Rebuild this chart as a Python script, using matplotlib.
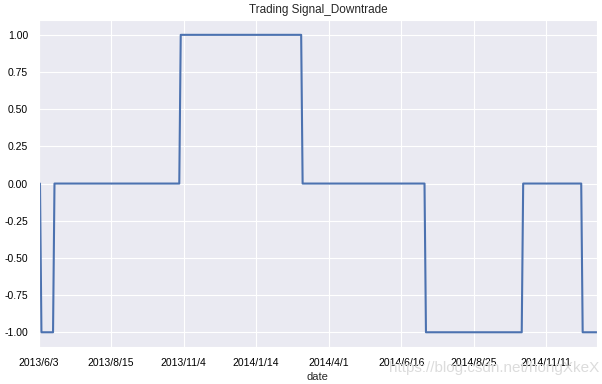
import numpy as np
import pandas as pd
import matplotlib
matplotlib.use('Agg')
import matplotlib.pyplot as plt
import seaborn as sns

# signal as runs of constant value
signal_levels = [0, -1, 0, 1, 0, -1, 0, -1]
run_lengths = [2, 9, 87, 84, 85, 67, 41, 11]

tick_pos = [0, 50, 100, 150, 200, 250, 300, 350]
tick_labels = ['2013/6/3', '2013/8/15', '2013/11/4', '2014/1/14',
               '2014/4/1', '2014/6/16', '2014/8/25', '2014/11/11']

signal = np.repeat(signal_levels, run_lengths)
x = np.arange(len(signal))

sns.set_style('darkgrid')
plt.rcParams['font.family'] = ['Liberation Sans', 'DejaVu Sans']

fig = plt.figure(figsize=(6.02, 3.84), dpi=100)
ax = fig.add_axes([0.064, 0.096, 0.928, 0.852])
ax.plot(x, signal, color='#4C72B0', linewidth=1.5)
ax.set_xlim(0, len(signal) - 1)
ax.set_ylim(-1.1, 1.1)
ax.set_yticks([-1.0, -0.75, -0.5, -0.25, 0.0, 0.25, 0.5, 0.75, 1.0])
ax.set_yticklabels([f'{v:.2f}' for v in ax.get_yticks()])
ax.set_xticks(tick_pos)
ax.set_xticklabels(tick_labels)
ax.tick_params(axis='both', labelsize=7.5, colors='black', pad=4)
ax.set_title('Trading Signal_Downtrade', fontsize=8.5, pad=5)
ax.set_xlabel('date', fontsize=8, labelpad=3)

# blog watermark in the corner
fig.text(0.995, 0.042, 'https://blog.csdn.net/hongXkeX', ha='right', va='center',
         fontsize=11, color='#dcdcdc', zorder=0)

fig.savefig('out.png', dpi=100)
